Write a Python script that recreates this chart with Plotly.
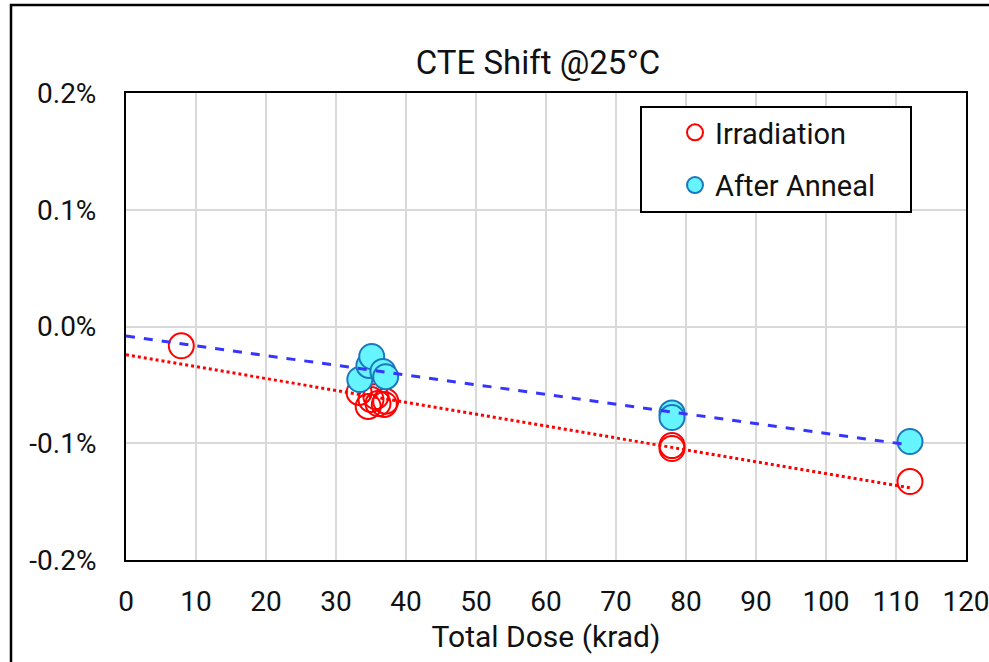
import numpy as np
import plotly.graph_objects as go

# ---- data (values in %) ----
irr_dose = [7.9, 33.3, 34.6, 35.0, 35.7, 36.0, 36.9, 37.1, 78.0, 78.0, 112.0]
irr_shift = [-0.0165, -0.0565, -0.0685, -0.0625, -0.060, -0.066, -0.0668, -0.064, -0.102, -0.1045, -0.1328]
ann_dose = [33.4, 34.7, 35.1, 36.7, 37.1, 78.0, 78.0, 112.0]
ann_shift = [-0.0454, -0.0334, -0.0257, -0.0385, -0.043, -0.074, -0.078, -0.0985]

x_ticks = [0, 10, 20, 30, 40, 50, 60, 70, 80, 90, 100, 110, 120]
y_tickvals = [-0.2, -0.1, 0.0, 0.1, 0.2]
y_ticktext = ["-0.2%", "-0.1%", "0.0%", "0.1%", "0.2%"]

FONT = "Roboto, 'Open Sans', sans-serif"
TXT = "#111111"

# linear trendlines (least squares, as in Excel)
def trend(x, y):
    k, b = np.polyfit(x, y, 1)
    xs = np.array([0.0, max(x)])
    return xs, k * xs + b

irr_tx, irr_ty = trend(irr_dose, irr_shift)
ann_tx, ann_ty = trend(ann_dose, ann_shift)

fig = go.Figure()
fig.add_trace(go.Scatter(
    x=irr_dose, y=irr_shift, mode="markers", name="Irradiation",
    legendgroup="a",
    marker=dict(symbol="circle", size=25, color="rgba(255,255,255,0)",
                line=dict(color="#FF0000", width=2)),
))
fig.add_trace(go.Scatter(
    x=ann_dose, y=ann_shift, mode="markers", name="After Anneal",
    legendgroup="b",
    marker=dict(symbol="circle", size=25, color="#66F5FF",
                line=dict(color="#1B78BE", width=2)),
))
fig.add_trace(go.Scatter(
    x=irr_tx, y=irr_ty, mode="lines", showlegend=False, hoverinfo="skip",
    line=dict(color="#FF0000", width=3, dash="dot"),
))
fig.add_trace(go.Scatter(
    x=ann_tx, y=ann_ty, mode="lines", showlegend=False, hoverinfo="skip",
    line=dict(color="#3535FF", width=3, dash="dash"),
))

W, H = 989, 662
L, R, T, B = 126, 23, 93, 102
pw, ph = W - L - R, H - T - B

def px(xp):
    return (xp - L) / pw

def py(yp):
    return (H - B - yp) / ph

fig.update_layout(
    width=W, height=H, autosize=False,
    margin=dict(l=L, r=R, t=T, b=B, autoexpand=False),
    paper_bgcolor="white", plot_bgcolor="white",
    font=dict(family=FONT, size=28, color=TXT),
    modebar=dict(bgcolor="rgba(0,0,0,0)", color="rgba(0,0,0,0)",
                 activecolor="rgba(0,0,0,0)"),
    title=dict(text="CTE Shift @25°C", x=px(538), xref="paper", xanchor="center",
               y=1 - 62 / H, yref="container", yanchor="middle",
               font=dict(family=FONT, size=33, color=TXT)),
    xaxis=dict(range=[0, 120], tickvals=x_ticks, showgrid=True, gridcolor="#D9D9D9",
               gridwidth=2, showline=True, linecolor="black", linewidth=2, mirror=True,
               zeroline=False, ticks="", ticklabelstandoff=15, ticklabeloverflow="allow",
               automargin=False,
               tickfont=dict(family=FONT, size=28, color=TXT),
               title=dict(text="Total Dose (krad)", standoff=9,
                          font=dict(family=FONT, size=30, color=TXT))),
    yaxis=dict(range=[-0.2, 0.2], tickvals=y_tickvals, ticktext=y_ticktext, showgrid=True,
               gridcolor="#D9D9D9", gridwidth=2, showline=True, linecolor="black",
               linewidth=2, mirror=True, zeroline=False, ticks="", ticklabelstandoff=22,
               automargin=False,
               tickfont=dict(family=FONT, size=28, color=TXT)),
    legend=dict(x=px(675), y=py(107), xanchor="left", yanchor="top",
                bgcolor="rgba(0,0,0,0)", borderwidth=0, tracegroupgap=12,
                font=dict(family=FONT, size=29, color=TXT)),
    showlegend=True,
    shapes=[
        dict(type="rect", xref="paper", yref="paper", x0=px(641), x1=px(911),
             y0=py(212), y1=py(107), line=dict(color="black", width=2),
             fillcolor="white", layer="above"),
        dict(type="rect", xref="paper", yref="paper", x0=px(11), x1=px(W + 20),
             y0=py(H + 20), y1=py(5), line=dict(color="black", width=2.5),
             fillcolor="rgba(0,0,0,0)", layer="above"),
    ],
)

fig.write_html("out.html", config={"displayModeBar": False},
               post_script="document.body.style.margin='0';")
